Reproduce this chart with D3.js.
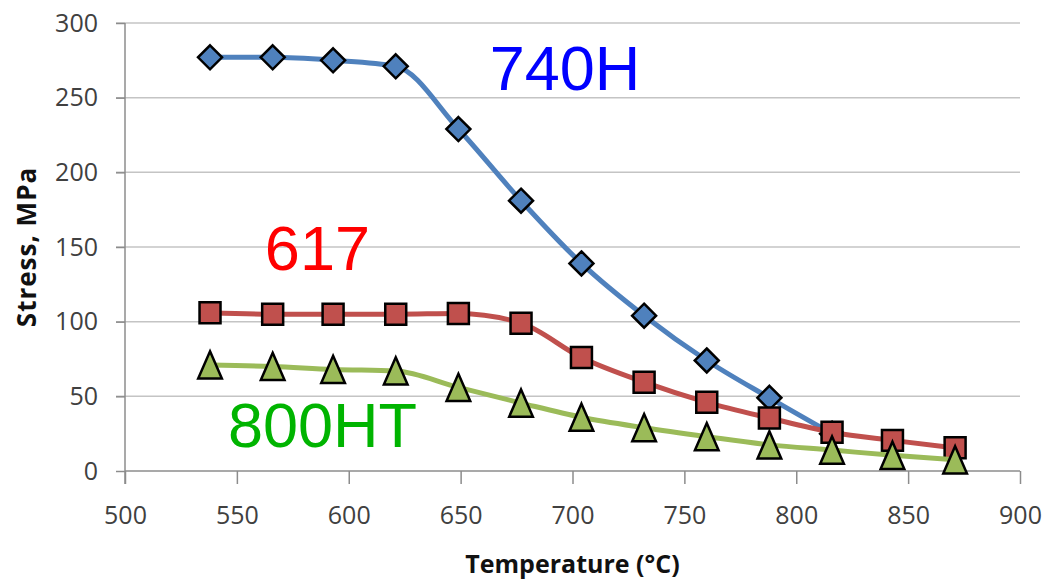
<!DOCTYPE html>
<html>
<head>
<meta charset="utf-8">
<script src="https://cdn.jsdelivr.net/npm/d3@7"></script>
<style>
  body { margin: 0; background: #fff; }
  .tick text { font-family: "Open Sans", sans-serif; fill: #404040; }
</style>
</head>
<body>
<div id="chart"></div>
<script>
// data
var temps = [538, 566, 593, 621, 649, 677, 704, 732, 760, 788, 816, 843, 871];
var stress740H = [277, 277, 275, 271, 229, 181, 139, 104, 74, 49, 25];
var stress617 = [106, 105, 105, 105, 105.5, 99, 76, 59.5, 46, 35.5, 26, 20.5, 15.5];
var stress800HT = [71, 70, 68, 67, 56, 45.5, 36, 29, 23, 17.5, 14, 10.5, 7.5];
var seriesNames = ["740H", "617", "800HT"];
var xTicks = [500, 550, 600, 650, 700, 750, 800, 850, 900];
var yTicks = [0, 50, 100, 150, 200, 250, 300];

var svgWidth = 1055;
var svgHeight = 580;
var margin = { top: 23, right: 35, bottom: 109, left: 125 };
var width = svgWidth - margin.left - margin.right;
var height = svgHeight - margin.top - margin.bottom;

var svg = d3.select("#chart")
  .append("svg")
  .attr("width", svgWidth)
  .attr("height", svgHeight);

var chartGroup = svg.append("g")
  .attr("transform", `translate(${margin.left}, ${margin.top})`);

var xScale = d3.scaleLinear().domain([500, 900]).range([0, width]);
var yScale = d3.scaleLinear().domain([0, 300]).range([height, 0]);

// gridlines
chartGroup.append("g")
  .selectAll("line")
  .data(yTicks.slice(1))
  .enter()
  .append("line")
  .attr("x1", -9)
  .attr("x2", width)
  .attr("y1", d => yScale(d))
  .attr("y2", d => yScale(d))
  .attr("stroke", "#c4c4c4")
  .attr("stroke-width", 1.5);

// axes
var bottomAxis = d3.axisBottom(xScale).tickValues(xTicks).tickSize(13).tickPadding(22);
var leftAxis = d3.axisLeft(yScale).tickValues(yTicks).tickSize(9).tickPadding(18);

var xAxisG = chartGroup.append("g")
  .attr("transform", `translate(0, ${height})`)
  .call(bottomAxis);
var yAxisG = chartGroup.append("g").call(leftAxis);

[xAxisG, yAxisG].forEach(g => {
  g.select(".domain").attr("stroke", "#8c8c8c").attr("stroke-width", 1.5);
  g.selectAll(".tick line").attr("stroke", "#8c8c8c").attr("stroke-width", 1.5);
  g.selectAll(".tick text").style("font-size", "25px");
});
xAxisG.select(".domain").attr("d", `M0,0H${width}`);
yAxisG.select(".domain").attr("d", `M0,0V${height + 13}`);

// marker shapes
var diamond = {
  draw: function(ctx, size) {
    var r = Math.sqrt(size) / 2;
    ctx.moveTo(0, -r); ctx.lineTo(r, 0); ctx.lineTo(0, r); ctx.lineTo(-r, 0); ctx.closePath();
  }
};
var triangle = {
  draw: function(ctx, size) {
    var w = Math.sqrt(size), h = w * 1.15;
    ctx.moveTo(0, -h / 2); ctx.lineTo(w / 2, h / 2); ctx.lineTo(-w / 2, h / 2); ctx.closePath();
  }
};

var series = [
  { values: stress740H, color: "#4f81bd", symbol: diamond, size: 576 },
  { values: stress617, color: "#c0504d", symbol: d3.symbolSquare, size: 440 },
  { values: stress800HT, color: "#9bbb59", symbol: triangle, size: 560 }
];

var line = d3.line()
  .x(d => xScale(d[0]))
  .y(d => yScale(d[1]))
  .curve(d3.curveMonotoneX);

series.forEach(s => {
  var pts = s.values.map((v, i) => [temps[i], v]);
  var g = chartGroup.append("g");
  g.append("path")
    .datum(pts)
    .attr("d", line)
    .attr("fill", "none")
    .attr("stroke", s.color)
    .attr("stroke-width", 5)
    .attr("stroke-linecap", "round");
  g.selectAll("path.marker")
    .data(pts)
    .enter()
    .append("path")
    .attr("class", "marker")
    .attr("d", d3.symbol().type(s.symbol).size(s.size))
    .attr("transform", d => `translate(${xScale(d[0])}, ${yScale(d[1])})`)
    .attr("fill", s.color)
    .attr("stroke", "#000")
    .attr("stroke-width", 2.5)
    .attr("stroke-linejoin", "miter");
});

// series name annotations (anchored in data units)
var annotations = [
  { name: seriesNames[0], t: 663, s: 255, color: "#0000ff" },
  { name: seriesNames[1], t: 562.5, s: 134.5, color: "#ff0000" },
  { name: seriesNames[2], t: 546, s: 16, color: "#00b400" }
];
chartGroup.selectAll("text.ann")
  .data(annotations)
  .enter()
  .append("text")
  .attr("class", "ann")
  .attr("x", d => xScale(d.t))
  .attr("y", d => yScale(d.s))
  .attr("fill", d => d.color)
  .style("font-family", "'Liberation Sans', Arial, sans-serif")
  .style("font-size", "63px")
  .text(d => d.name);

// axis titles
svg.append("text")
  .attr("transform", `translate(36, ${margin.top + height / 2}) rotate(-90)`)
  .attr("text-anchor", "middle")
  .style("font-family", "'Open Sans', sans-serif")
  .style("font-weight", "bold")
  .style("font-size", "26px")
  .style("letter-spacing", "1px")
  .attr("fill", "#111")
  .text("Stress, MPa");

svg.append("text")
  .attr("x", margin.left + width / 2)
  .attr("y", 573)
  .attr("text-anchor", "middle")
  .style("font-family", "'Open Sans', sans-serif")
  .style("font-weight", "bold")
  .style("font-size", "25px")
  .attr("fill", "#111")
  .text("Temperature (°C)");
</script>
</body>
</html>
